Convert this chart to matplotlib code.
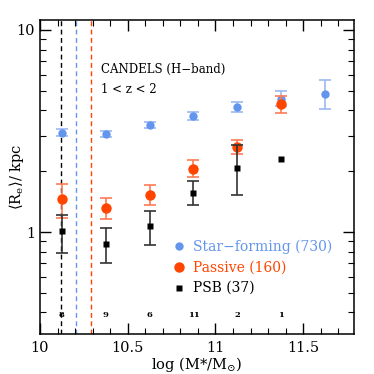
import matplotlib
matplotlib.use("Agg")
import matplotlib.pyplot as plt
from matplotlib.ticker import FixedLocator, NullFormatter
import numpy as np

plt.rcParams['font.family'] = ['DejaVu Serif']
plt.rcParams['mathtext.fontset'] = 'dejavuserif'

# Data
sf_x = [10.125, 10.375, 10.625, 10.875, 11.125, 11.375, 11.625]
sf_y = [3.10, 3.06, 3.39, 3.77, 4.16, 4.57, 4.84]
sf_lo = [2.98, 2.95, 3.26, 3.58, 3.92, 4.20, 4.05]
sf_hi = [3.22, 3.18, 3.52, 3.93, 4.40, 5.00, 5.66]

pa_x = [10.125, 10.375, 10.625, 10.875, 11.125, 11.375]
pa_y = [1.46, 1.32, 1.52, 2.05, 2.64, 4.32]
pa_lo = [1.17, 1.16, 1.36, 1.87, 2.43, 3.89]
pa_hi = [1.73, 1.48, 1.70, 2.26, 2.85, 4.73]

psb_x = [10.125, 10.375, 10.625, 10.875, 11.125, 11.375]
psb_y = [1.01, 0.875, 1.07, 1.56, 2.08, 2.29]
psb_lo = [0.79, 0.70, 0.86, 1.36, 1.52, 2.29]
psb_hi = [1.22, 1.05, 1.27, 1.78, 2.70, 2.29]

psb_counts = ["8", "9", "6", "11", "2", "1"]
vlines_x = [10.12, 10.205, 10.29]
vlines_c = ["black", "#6495ed", "#ff4500"]

labels = ["Star\u2212forming (730)", "Passive (160)", "PSB (37)"]

fig = plt.figure(figsize=(3.74, 3.74), dpi=100)
ax = fig.add_axes([40/374, 40/374, 314/374, 314/374])
ax.set_yscale('log')
ax.set_xlim(10, 11.79)
ax.set_ylim(0.313, 11.2)

for x, c in zip(vlines_x, vlines_c):
    ax.axvline(x, color=c, ls=(0, (3.5, 2.5)), lw=1.0, zorder=1)

def err(y, lo, hi):
    y = np.array(y); lo = np.array(lo); hi = np.array(hi)
    return [y - lo, hi - y]

ax.errorbar(sf_x, sf_y, yerr=err(sf_y, sf_lo, sf_hi), fmt='none',
            ecolor='#9bb9f2', elinewidth=1.2, capsize=4, capthick=1.2, zorder=2)
ax.plot(sf_x, sf_y, 'o', color='#6495ed', ms=6, mec='none', zorder=3)

ax.errorbar(pa_x, pa_y, yerr=err(pa_y, pa_lo, pa_hi), fmt='none',
            ecolor='#ff7a55', elinewidth=1.2, capsize=4, capthick=1.2, zorder=4)
ax.plot(pa_x, pa_y, 'o', color='#ff4500', ms=7.5, mec='none', zorder=5)

psb_e = err(psb_y, psb_lo, psb_hi)
ax.errorbar(psb_x[:-1], psb_y[:-1], yerr=[psb_e[0][:-1], psb_e[1][:-1]], fmt='none',
            ecolor='#333333', elinewidth=1.2, capsize=4, capthick=1.2, zorder=6)
ax.plot(psb_x, psb_y, 's', color='black', ms=5, mec='none', zorder=7)

for x, t in zip(psb_x, psb_counts):
    ax.text(x, 0.39, t, ha='center', va='center', fontsize=6, fontweight='bold', zorder=8)

ax.text(10.35, 6.4, "CANDELS (H\u2212band)", fontsize=8.5, ha='left', va='center')
ax.text(10.35, 5.05, "1 < z < 2", fontsize=8.5, ha='left', va='center')

# legend
lx = 10.795
ltx = 10.87
ly = [0.85, 0.67, 0.53]
cols = ['#6495ed', '#ff4500', 'black']
mk = ['o', 'o', 's']
ms = [6, 7.5, 5]
for y, c, m, s, lab in zip(ly, cols, mk, ms, labels):
    ax.plot([lx], [y], m, color=c, ms=s, mec='none', zorder=9)
    ax.text(ltx, y, lab, color=c, fontsize=10, ha='left', va='center')

ax.yaxis.set_major_locator(FixedLocator([1, 10]))
ax.set_yticklabels(['1', '10'])
minor = [0.4, 0.5, 0.6, 0.7, 0.8, 0.9, 2, 3, 4, 5, 6, 7, 8, 9]
ax.yaxis.set_minor_locator(FixedLocator(minor))
ax.yaxis.set_minor_formatter(NullFormatter())
ax.xaxis.set_major_locator(FixedLocator([10, 10.5, 11, 11.5]))
ax.set_xticklabels(['10', '10.5', '11', '11.5'])
ax.xaxis.set_minor_locator(FixedLocator(np.arange(10.1, 11.8, 0.1)))
ax.tick_params(which='both', direction='in', top=True, right=True, labelsize=10.5)
ax.tick_params(which='major', length=8, width=1)
ax.tick_params(which='minor', length=4, width=0.8)
ax.tick_params(axis='x', pad=5)
for s in ax.spines.values():
    s.set_linewidth(1.1)

ax.set_xlabel(r"log (M*/M$_{\odot}$)", fontsize=10.5)
ax.xaxis.set_label_coords(0.5, (9 - 40) / 314)
ax.xaxis.label.set_va('center')
ax.set_ylabel(r"$\langle$R$_\mathrm{e}\rangle$/ kpc", fontsize=10.5)
ax.yaxis.set_label_coords((16 - 40) / 314, 0.5)
ax.yaxis.label.set_va('center')

fig.savefig("out.png", dpi=100)
